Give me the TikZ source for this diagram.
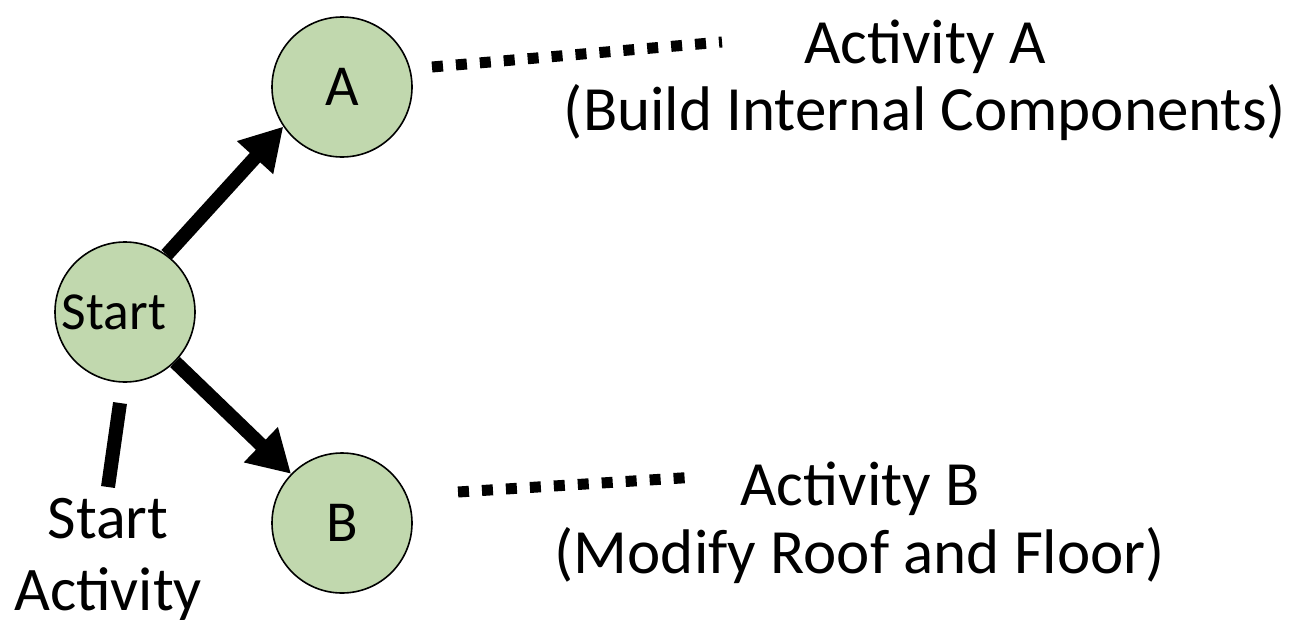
\documentclass[tikz,border=0pt]{standalone}
\usepackage{fontspec}
\setmainfont{Carlito}
\usetikzlibrary{arrows.meta}
\definecolor{nodegreen}{RGB}{193,216,174}
\tikzset{
  event/.style={circle, draw=black, line width=1.6pt, fill=nodegreen,
    minimum size=140pt, inner sep=0pt, font=\fontsize{58}{66}\selectfont},
  flow/.style={line width=14pt, -{Triangle[length=42pt,width=46pt]}},
  lead/.style={line width=11pt, dash pattern=on 11pt off 13pt},
  stem/.style={line width=14pt},
  caption/.style={align=center, inner sep=0pt}
}
\begin{document}
\begin{tikzpicture}[x=1pt, y=-1pt]
  \useasboundingbox (0,0) rectangle (1297,621);

  % events
  \node[event] (S) at (125,312) {};
  \node[font=\fontsize{53.5}{62}\selectfont, inner sep=0pt] (St) at (114,312) {Start};
  \node[event] (A) at (342,87) {A};
  \node[event] (B) at (342,523) {B};

  % activities
  \draw[flow] (S.54) -- (A.214);
  \draw[flow] (S.-45) -- (B.136);

  % labels (anchored on the baseline of the last line)
  \node[caption, anchor=base, font=\fontsize{63}{67}\selectfont] (LA) at (925,130)
    {Activity A\\(Build Internal Components)};
  \node[caption, anchor=base, font=\fontsize{63}{68}\selectfont] (LB) at (860,573)
    {Activity B\\(Modify Roof and Floor)};
  \node[caption, anchor=base, font=\fontsize{62}{72}\selectfont] (LS) at (108,610)
    {Start\\Activity};

  % leader lines
  \coordinate (a1) at (432,67);
  \coordinate (a2) at (722,42);
  \coordinate (b1) at (458,492);
  \coordinate (b2) at (697,477);
  \coordinate (s1) at (120,403);
  \coordinate (s2) at (108,487);
  \draw[lead] (a1) -- (a2);
  \draw[lead] (b1) -- (b2);
  \draw[stem] (s1) -- (s2);
\end{tikzpicture}
\end{document}
